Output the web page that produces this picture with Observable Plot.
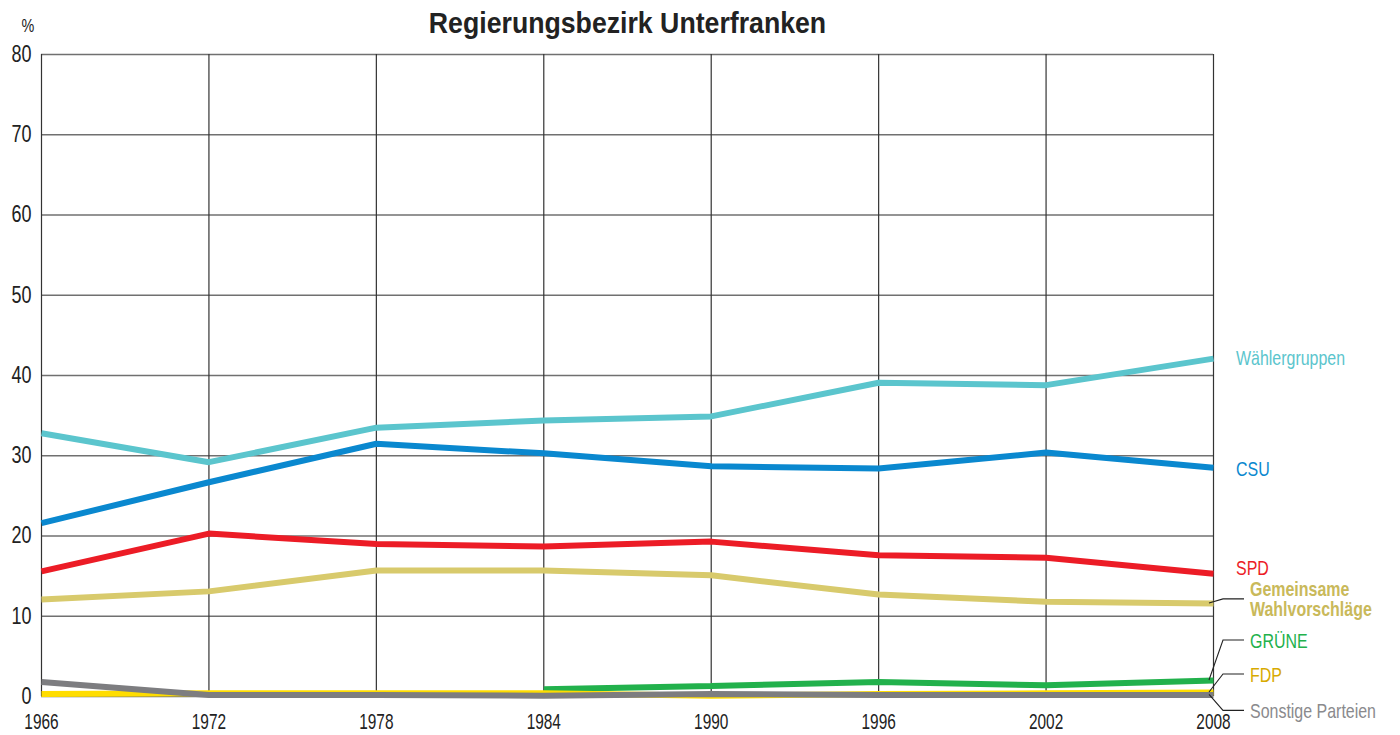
<!DOCTYPE html>
<html>
<head>
<meta charset="utf-8">
<script src="https://cdn.jsdelivr.net/npm/d3@7"></script>
<script src="https://cdn.jsdelivr.net/npm/@observablehq/plot@0.6"></script>
<style>
  html, body { margin: 0; padding: 0; background: #fff; }
  #chart svg { display: block; }
</style>
</head>
<body>
<div id="chart"></div>
<script>
// ---- data (percent of votes) ----
const years = [1966, 1972, 1978, 1984, 1990, 1996, 2002, 2008];
const yTicks = [0, 10, 20, 30, 40, 50, 60, 70, 80];
const parties = ["Wählergruppen", "CSU", "SPD", "Gemeinsame Wahlvorschläge", "GRÜNE", "FDP", "Sonstige Parteien"];
const waehlergruppen = [32.8, 29.2, 33.5, 34.4, 34.9, 39.1, 38.8, 42.1];
const csu            = [21.6, 26.7, 31.5, 30.3, 28.7, 28.4, 30.4, 28.5];
const spd            = [15.6, 20.3, 19.0, 18.7, 19.3, 17.6, 17.3, 15.3];
const gemeinsame     = [12.1, 13.1, 15.7, 15.7, 15.1, 12.7, 11.8, 11.6];
const gruene         = [null, null, null, 0.9, 1.3, 1.8, 1.4, 2.0];
const fdp            = [0.3, 0.4, 0.4, 0.4, 0.1, 0.3, 0.4, 0.5];
const sonstige       = [1.8, 0.2, 0.2, 0.1, 0.3, 0.2, 0.2, 0.2];
const lineColors  = ["#5bc5cd", "#0a88cf", "#ec1c26", "#d8ca6c", "#22b14c", "#ffdd00", "#7d7d80"];
const labelColors = ["#5bc5cd", "#0a88cf", "#ec1c26", "#c9b95a", "#22b14c", "#d8aa00", "#8a8a8d"];

const seriesValues = [waehlergruppen, csu, spd, gemeinsame, gruene, fdp, sonstige];
const table = [];
parties.forEach((p, i) => years.forEach((yr, j) => table.push({party: p, year: yr, value: seriesValues[i][j]})));

// label layout (pixel offsets from each line's end)
const labelLayout = {
  "Wählergruppen": {dy: -1, dx: 23, leader: false, lines: ["Wählergruppen"]},
  "CSU": {dy: 1, dx: 23, leader: false, lines: ["CSU"]},
  "SPD": {dy: -6, dx: 23, leader: false, lines: ["SPD"]},
  "Gemeinsame Wahlvorschläge": {dy: -4, dx: 37, leader: true, lines: ["Gemeinsame", "Wahlvorschläge"], bold: true},
  "GRÜNE": {dy: -40, dx: 37, leader: true, lines: ["GRÜNE"]},
  "FDP": {dy: -18, dx: 37, leader: true, lines: ["FDP"]},
  "Sonstige Parteien": {dy: 16, dx: 37, leader: true, lines: ["Sonstige Parteien"]}
};

const FONT = "'Liberation Sans', Arial, sans-serif";

function labelsMark(index, scales) {
  const g = d3.create("svg:g");
  const xEnd = scales.x(years[years.length - 1]);
  parties.forEach((p, i) => {
    const lay = labelLayout[p];
    const v = seriesValues[i][years.length - 1];
    const yEnd = scales.y(v);
    const yLab = yEnd + lay.dy;
    if (lay.leader) {
      g.append("path")
        .attr("d", `M${xEnd - 4},${yEnd} L${xEnd + 10},${yLab} L${xEnd + 31},${yLab}`)
        .attr("fill", "none")
        .attr("stroke", "#222")
        .attr("stroke-width", 1.1);
    }
    const n = lay.lines.length;
    lay.lines.forEach((t, k) => {
      g.append("text")
        .attr("class", "serieslabel")
        .attr("x", xEnd + lay.dx)
        .attr("y", yLab + (k - (n - 1) / 2) * 20)
        .attr("dy", "0.36em")
        .attr("text-anchor", "start")
        .attr("fill", labelColors[i])
        .attr("font-family", FONT)
        .attr("font-size", 21)
        .attr("font-weight", lay.bold ? "bold" : "normal")
        .text(t);
    });
  });
  return g.node();
}

const chart = Plot.plot({
  width: 1400,
  height: 735,
  marginLeft: 41,
  marginRight: 187,
  marginTop: 54,
  marginBottom: 39,
  style: {fontFamily: FONT, background: "#fff", color: "#222"},
  x: {domain: [1966, 2008], ticks: years, tickFormat: d => String(d)},
  y: {domain: [0, 80], ticks: yTicks},
  color: {domain: parties, range: lineColors},
  marks: [
    Plot.gridY(yTicks, {stroke: "#707070", strokeOpacity: 1, strokeWidth: 1.4}),
    Plot.gridX(years, {stroke: "#333", strokeOpacity: 1, strokeWidth: 1.2}),
    Plot.axisY(yTicks, {tickSize: 0, tickPadding: 10, fontSize: 23, label: null, fill: "#222"}),
    Plot.axisX(years, {tickSize: 0, tickPadding: 17, fontSize: 22, label: null, fill: "#222", tickFormat: d => String(d)}),
    Plot.line(table, {x: "year", y: "value", z: "party", stroke: "party", strokeWidth: 6, strokeLinejoin: "miter", strokeLinecap: "butt"}),
    Plot.text(["Regierungsbezirk Unterfranken"], {frameAnchor: "top", lineAnchor: "middle", dy: -31, fontSize: 29, fontWeight: "bold", fill: "#222", className: "charttitle"}),
    Plot.text(["%"], {frameAnchor: "top-left", lineAnchor: "middle", dx: -20, dy: -28, fontSize: 18, fill: "#222", className: "pct"}),
    labelsMark
  ]
});
document.getElementById("chart").appendChild(chart);

// condensed typeface look: squeeze glyph widths of the real text elements
function condense(selector, factor) {
  chart.querySelectorAll(selector).forEach(t => {
    const len = t.getComputedTextLength();
    if (len > 0) {
      t.setAttribute("textLength", (len * factor).toFixed(1));
      t.setAttribute("lengthAdjust", "spacingAndGlyphs");
    }
  });
}
condense('g[aria-label="x-axis tick label"] text', 0.70);
condense('g[aria-label="y-axis tick label"] text', 0.78);
condense('text.serieslabel', 0.76);
condense('.pct text', 0.8);
condense('.charttitle text', 0.92);
</script>
</body>
</html>
